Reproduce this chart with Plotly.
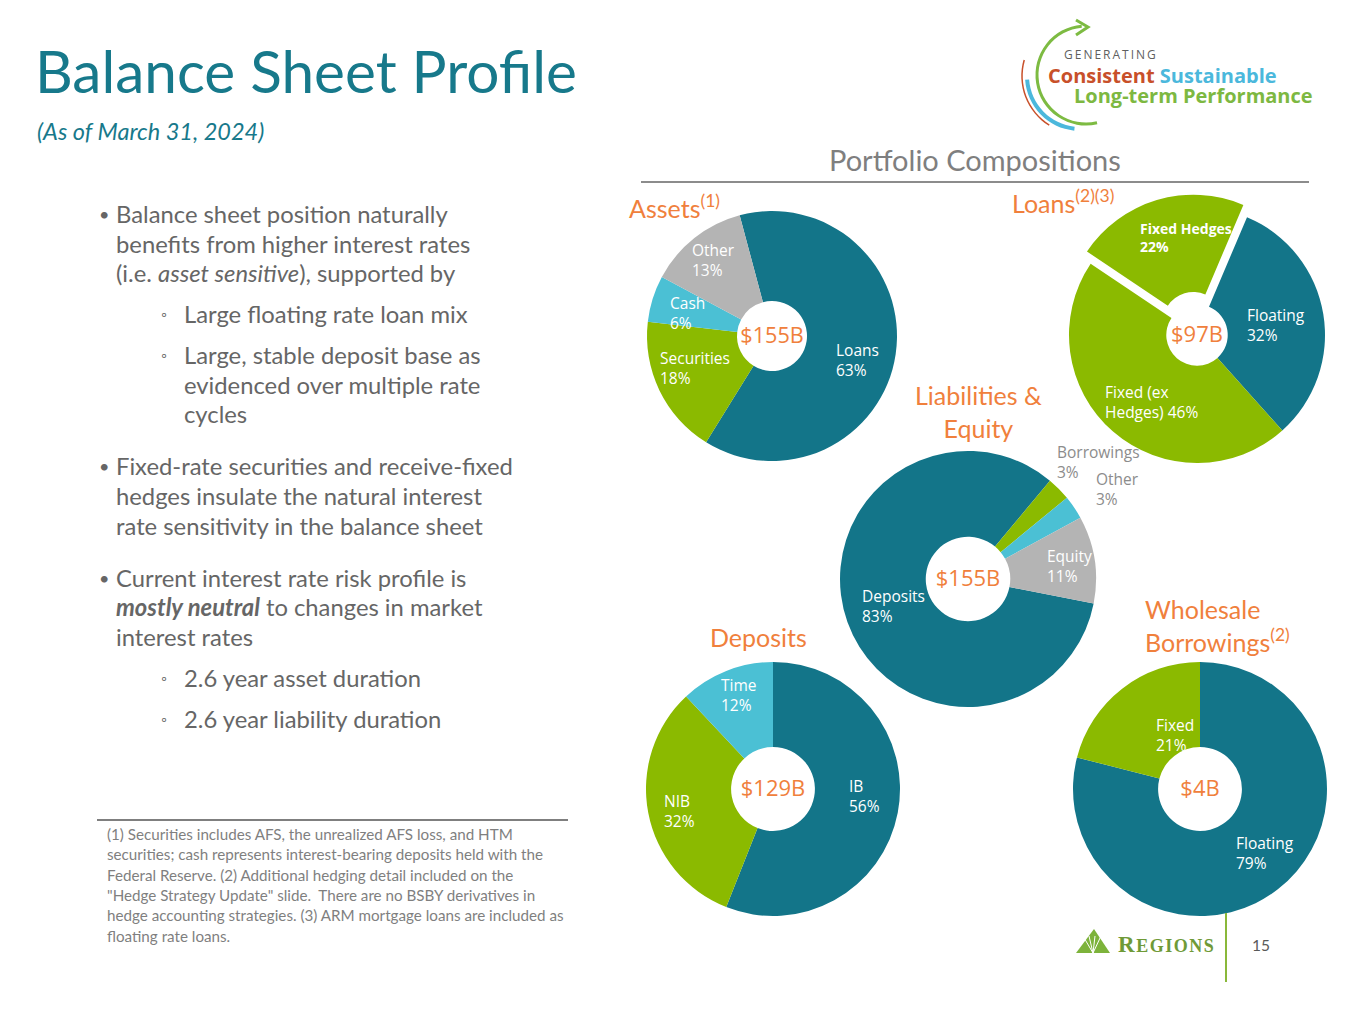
import math
import plotly.graph_objects as go

# page offset of the plot inside the html body (default 8px body margin)
OFF = 8
W, H = 1365 - OFF, 1024 - OFF

# ---------------- data ----------------
assets_labels = ["Loans", "Securities", "Cash", "Other"]
assets_values = [63, 18, 6, 13]
assets_total = "$155B"

loans_labels = ["Floating", "Fixed (ex Hedges)", "Fixed Hedges"]
loans_values = [32, 46, 22]
loans_total = "$97B"

liab_labels = ["Deposits", "Borrowings", "Other", "Equity"]
liab_values = [83, 3, 3, 11]
liab_total = "$155B"

dep_labels = ["IB", "NIB", "Time"]
dep_values = [56, 32, 12]
dep_total = "$129B"

wb_labels = ["Floating", "Fixed"]
wb_values = [79, 21]
wb_total = "$4B"

bullets = [
    (0, ["Balance sheet position naturally",
         "benefits from higher interest rates",
         "(i.e. <i>asset sensitive</i>), supported by"]),
    (1, ["Large floating rate loan mix"]),
    (1, ["Large, stable deposit base as",
         "evidenced over multiple rate",
         "cycles"]),
    (0, ["Fixed-rate securities and receive-fixed",
         "hedges insulate the natural interest",
         "rate sensitivity in the balance sheet"]),
    (0, ["Current interest rate risk profile is",
         "<b><i>mostly neutral</i></b> to changes in market",
         "interest rates"]),
    (1, ["2.6 year asset duration"]),
    (1, ["2.6 year liability duration"]),
]

footnote_lines = [
    "(1) Securities includes AFS, the unrealized AFS loss, and HTM",
    "securities; cash represents interest-bearing deposits held with the",
    "Federal Reserve. (2) Additional hedging detail included on the",
    "\"Hedge Strategy Update\" slide.  There are no BSBY derivatives in",
    "hedge accounting strategies. (3) ARM mortgage loans are included as",
    "floating rate loans.",
]

# ---------------- styles ----------------
TEAL = "#137589"
GREEN = "#8BBA00"
CYAN = "#4BC0D4"
GRAY = "#B4B4B4"
ORANGE = "#F0803C"
TITLE_TEAL = "#17798B"
BODY = "#666666"
FOOT = "#7F7F7F"
FONT = "Lato"
PIEFONT = "Open Sans"


def X(px):
    return (px - OFF) / W


def Y(py):
    return 1 - (py - OFF) / H


annotations = []
shapes = []


def ann(text, x, y, size, color, xanchor="left", family=FONT, yanchor="middle", align="left"):
    annotations.append(dict(text=text, x=X(x), y=Y(y), xref="paper", yref="paper",
                            xanchor=xanchor, yanchor=yanchor, showarrow=False, align=align,
                            font=dict(size=size, color=color, family=family)))


fig = go.Figure()


def add_pie(labels, values, colors, total, cx, cy, r, hole, rotation, pull=None):
    maxpull = max(pull) if pull else 0
    half = r * (1 + maxpull)
    fig.add_trace(go.Pie(
        labels=labels, values=values, sort=False, direction="clockwise",
        rotation=rotation, hole=hole, pull=pull,
        marker=dict(colors=colors, line=dict(width=0)),
        textinfo="none", hoverinfo="label+percent", showlegend=False,
        domain=dict(x=[X(cx - half), X(cx + half)], y=[Y(cy + half), Y(cy - half)]),
        title=dict(text=total, position="middle center",
                   font=dict(size=22, color=ORANGE, family=PIEFONT)),
    ))


add_pie(assets_labels, assets_values, [TEAL, GREEN, CYAN, GRAY], assets_total,
        772, 336, 125, 0.28, 345)
add_pie(loans_labels, loans_values, [TEAL, GREEN, GREEN], loans_total,
        1197, 335, 128, 0.24, 23, pull=[0, 0, 0.1])
add_pie(liab_labels, liab_values, [TEAL, GREEN, CYAN, GRAY], liab_total,
        968, 579, 128, 0.33, 101)
add_pie(dep_labels, dep_values, [TEAL, GREEN, CYAN], dep_total,
        773, 789, 127, 0.33, 0)
add_pie(wb_labels, wb_values, [TEAL, GREEN], wb_total,
        1200, 789, 127, 0.33, 0)


# slice labels (text from data, positions from layout)
def slice_label(name, val, x, y, color="white", bold=False, split=None, size=15.5):
    if split:
        first, rest = split
        txt = f"{first}<br>{rest} {val}%"
    else:
        txt = f"{name}<br>{val}%"
    if bold:
        txt = "<br>".join(f"<b>{p}</b>" for p in txt.split("<br>"))
    ann(txt, x, y, size, color, family=PIEFONT)


asset_pos = [(834, 360), (658, 368), (668, 313), (690, 260)]
for n, v, (x, y) in zip(assets_labels, assets_values, asset_pos):
    slice_label(n, v, x, y)

slice_label(loans_labels[0], loans_values[0], 1245, 325)
slice_label(loans_labels[1], loans_values[1], 1103, 402, split=("Fixed (ex", "Hedges)"))
slice_label(loans_labels[2], loans_values[2], 1138, 237, bold=True, size=14)

liab_pos = [(860, 606), (1055, 462), (1094, 489), (1045, 566)]
liab_col = ["white", "#8C8C8C", "#8C8C8C", "white"]
for n, v, (x, y), c in zip(liab_labels, liab_values, liab_pos, liab_col):
    slice_label(n, v, x, y, color=c)

dep_pos = [(847, 796), (662, 811), (719, 695)]
for n, v, (x, y) in zip(dep_labels, dep_values, dep_pos):
    slice_label(n, v, x, y)

wb_pos = [(1234, 853), (1154, 735)]
for n, v, (x, y) in zip(wb_labels, wb_values, wb_pos):
    slice_label(n, v, x, y)

# ---------------- slide texts ----------------
ann("Balance Sheet Profile", 33, 70, 58.5, TITLE_TEAL)
ann("<i>(As of March 31, 2024)</i>", 35, 131, 23.5, TITLE_TEAL)

ann("Portfolio Compositions", 975, 160, 29, FOOT, xanchor="center")
shapes.append(dict(type="line", xref="paper", yref="paper", x0=X(641), x1=X(1309),
                   y0=Y(182), y1=Y(182), line=dict(color="#8C8C8C", width=2)))

ann("Assets<sup>(1)</sup>", 627, 207, 25, ORANGE)
ann("Loans<sup>(2)(3)</sup>", 1010, 201, 25, ORANGE)
ann("Liabilities &amp;<br>Equity", 978, 412, 25, ORANGE, xanchor="center", align="center")
ann("Deposits", 758, 637, 25, ORANGE, xanchor="center")
ann("Wholesale<br>Borrowings<sup>(2)</sup>", 1143, 625, 25, ORANGE)

# bullets
y = 214
first = True
for level, lines in bullets:
    if not first:
        y += 41 if level == 1 else 52
    first = False
    if level == 0:
        ann("•", 97, y, 18, BODY)
        tx = 114
    else:
        ann("◦", 159, y, 15, BODY)
        tx = 182
    for i, line in enumerate(lines):
        ann(line, tx, y, 23.8, BODY)
        if i < len(lines) - 1:
            y += 29.6

# footnote
shapes.append(dict(type="line", xref="paper", yref="paper", x0=X(97), x1=X(568),
                   y0=Y(820), y1=Y(820), line=dict(color="#7F7F7F", width=2)))
for i, line in enumerate(footnote_lines):
    ann(line, 105, 834 + i * 20.3, 15.2, FOOT)


# ---------------- logo (top right) ----------------
def arc_path(cx, cy, r, a0, a1, n=8):
    d = (a1 - a0) / n
    k = 4 / 3 * math.tan(math.radians(d) / 4)
    p = f"M{X(cx + r*math.cos(math.radians(a0)))},{Y(cy + r*math.sin(math.radians(a0)))}"
    for i in range(n):
        t0 = math.radians(a0 + i * d)
        t1 = math.radians(a0 + (i + 1) * d)
        x0, y0 = cx + r * math.cos(t0), cy + r * math.sin(t0)
        x3, y3 = cx + r * math.cos(t1), cy + r * math.sin(t1)
        x1, y1 = x0 - k * r * math.sin(t0), y0 + k * r * math.cos(t0)
        x2, y2 = x3 + k * r * math.sin(t1), y3 - k * r * math.cos(t1)
        p += f" C{X(x1)},{Y(y1)} {X(x2)},{Y(y2)} {X(x3)},{Y(y3)}"
    return p


shapes.append(dict(type="path", xref="paper", yref="paper",
                   path=arc_path(1086, 75, 49, -95, -283), line=dict(color="#7DBB42", width=3)))
shapes.append(dict(type="path", xref="paper", yref="paper",
                   path=f"M{X(1076)},{Y(20)} L{X(1088)},{Y(27)} L{X(1076)},{Y(35)}",
                   line=dict(color="#7DBB42", width=3)))
shapes.append(dict(type="path", xref="paper", yref="paper",
                   path=arc_path(1080, 76, 58, 196, 122), line=dict(color="#C8502A", width=1.5)))
shapes.append(dict(type="path", xref="paper", yref="paper",
                   path=arc_path(1080, 76, 53, 176, 96), line=dict(color="#4BB8DC", width=4)))
ann("<span style='letter-spacing:2px'>GENERATING</span>", 1062, 54, 12, "#5F5F5F",
    family="Open Sans")
ann("<b><span style='color:#C8502A'>Consistent</span> "
    "<span style='color:#4BB8DC'>Sustainable</span></b>", 1046, 75, 20, "#C8502A",
    family="Open Sans")
ann("<b>Long-term Performance</b>", 1072, 96, 20, "#7DB841", family="Open Sans")

# ---------------- footer ----------------
shapes.append(dict(type="path", xref="paper", yref="paper",
                   path=f"M{X(1076)},{Y(953)} L{X(1094)},{Y(929)} L{X(1110)},{Y(953)} Z",
                   fillcolor="#7DB33B", line=dict(width=0)))
for ex in [1083, 1089, 1095, 1101]:
    shapes.append(dict(type="line", xref="paper", yref="paper",
                       x0=X(1093), y0=Y(953), x1=X(ex), y1=Y(936),
                       line=dict(color="white", width=1)))
ann("<b><span style='letter-spacing:1.5px'>R<span style='font-size:18px'>EGIONS</span></span></b>",
    1116, 944, 23, "#6F9A37", family="Liberation Serif")
shapes.append(dict(type="line", xref="paper", yref="paper", x0=X(1226), x1=X(1226),
                   y0=Y(913), y1=Y(982), line=dict(color="#8AB83A", width=2)))
ann("15", 1261, 945, 15.5, "#595959", xanchor="center")

fig.update_layout(
    width=W, height=H, margin=dict(l=0, r=0, t=0, b=0),
    paper_bgcolor="white", plot_bgcolor="white",
    annotations=annotations, shapes=shapes, showlegend=False,
)
fig.write_html("out.html")
